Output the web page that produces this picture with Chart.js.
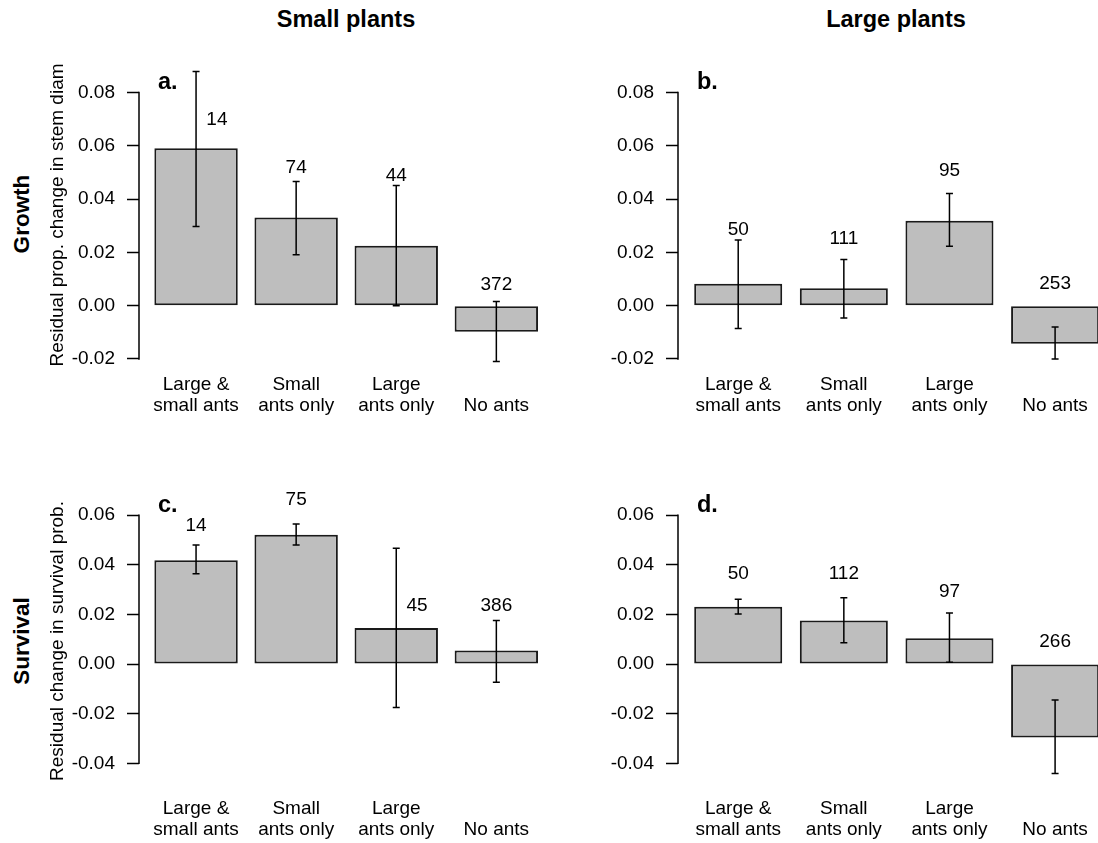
<!DOCTYPE html>
<html>
<head>
<meta charset="utf-8">
<title>Ant occupancy effects on plant growth and survival</title>
<script src="https://cdn.jsdelivr.net/npm/chart.js@4.4.1/dist/chart.umd.min.js"></script>
<style>
  html, body { margin: 0; padding: 0; background: #fff; width: 1098px; height: 843px; overflow: hidden; }
  #fig { position: relative; width: 1098px; height: 843px; overflow: hidden;
         font-family: "Liberation Sans", Arial, sans-serif; color: #000; }
  .hdr { position: absolute; font-weight: bold; font-size: 23.5px; line-height: 1;
         white-space: nowrap; transform: translate(-50%, -50%); }
  .rowlab { position: absolute; font-weight: bold; font-size: 22.5px; line-height: 1;
            white-space: nowrap; transform: translate(-50%, -50%) rotate(-90deg); }
</style>
</head>
<body>
<div id="fig">
  <div class="hdr" style="left:346px; top:20px;">Small plants</div>
  <div class="hdr" style="left:896px; top:20px;">Large plants</div>
  <div class="rowlab" style="left:22px; top:214px;">Growth</div>
  <div class="rowlab" style="left:22px; top:641px;">Survival</div>
</div>
<script>
// ---- data -------------------------------------------------------------
const categories = [["Large &", "small ants"], ["Small", "ants only"], ["Large", "ants only"], ["", "No ants"]];

const growthTicks   = [-0.02, 0.00, 0.02, 0.04, 0.06, 0.08];
const survivalTicks = [-0.04, -0.02, 0.00, 0.02, 0.04, 0.06];

// Growth, small plants
const growthSmallMean = [0.0591, 0.0331, 0.0225, -0.0098];
const growthSmallLo   = [0.0297, 0.0191, 0.0000, -0.0210];
const growthSmallHi   = [0.0879, 0.0466, 0.0451, 0.0016];
const growthSmallN    = [14, 74, 44, 372];

// Growth, large plants
const growthLargeMean = [0.0082, 0.0065, 0.0319, -0.0143];
const growthLargeLo   = [-0.0086, -0.0046, 0.0223, -0.0200];
const growthLargeHi   = [0.0247, 0.0173, 0.0421, -0.0080];
const growthLargeN    = [50, 111, 95, 253];

// Survival, small plants
const survivalSmallMean = [0.0419, 0.0521, 0.0145, 0.0055];
const survivalSmallLo   = [0.0364, 0.0480, -0.0175, -0.0073];
const survivalSmallHi   = [0.0480, 0.0565, 0.0467, 0.0176];
const survivalSmallN    = [14, 75, 45, 386];

// Survival, large plants
const survivalLargeMean = [0.0231, 0.0176, 0.0104, -0.0296];
const survivalLargeLo   = [0.0202, 0.0086, 0.0007, -0.0441];
const survivalLargeHi   = [0.0261, 0.0267, 0.0206, -0.0145];
const survivalLargeN    = [50, 112, 97, 266];

// ---- layout of the four panels ----------------------------------------
const FONT = '"Liberation Sans", Arial, sans-serif';

const panels = [
  { letter: 'a.', mean: growthSmallMean, lo: growthSmallLo, hi: growthSmallHi, n: growthSmallN,
    ticks: growthTicks, yMin: -0.0249, yMax: 0.0930, letterY: 0.0814,
    countY: [0.0697, 0.0516, 0.0487, 0.0080], countDx: [0.25, 0, 0, 0],
    title: 'Residual prop. change in stem diam',
    box: { left: 0, top: 0, width: 556, height: 424 },
    area: { left: 139, right: 553.4, top: 58, bottom: 372 }, labPad: 2.5 },
  { letter: 'b.', mean: growthLargeMean, lo: growthLargeLo, hi: growthLargeHi, n: growthLargeN,
    ticks: growthTicks, yMin: -0.0249, yMax: 0.0930, letterY: 0.0814,
    countY: [0.0284, 0.0250, 0.0507, 0.0081], countDx: [0, 0, 0, 0],
    title: '',
    box: { left: 549, top: 0, width: 570, height: 424 },
    area: { left: 678, right: 1115.3, top: 58, bottom: 372 }, labPad: 2.5 },
  { letter: 'c.', mean: survivalSmallMean, lo: survivalSmallLo, hi: survivalSmallHi, n: survivalSmallN,
    ticks: survivalTicks, yMin: -0.0540, yMax: 0.0726, letterY: 0.0614,
    countY: [0.0556, 0.0661, 0.0234, 0.0235], countDx: [0, 0, 0.25, 0],
    title: 'Residual change in survival prob.',
    box: { left: 0, top: 424, width: 556, height: 419 },
    area: { left: 139, right: 553.4, top: 484, bottom: 798 }, labPad: 0 },
  { letter: 'd.', mean: survivalLargeMean, lo: survivalLargeLo, hi: survivalLargeHi, n: survivalLargeN,
    ticks: survivalTicks, yMin: -0.0540, yMax: 0.0726, letterY: 0.0614,
    countY: [0.0363, 0.0363, 0.0292, 0.0088], countDx: [0, 0, 0, 0],
    title: '',
    box: { left: 549, top: 424, width: 570, height: 419 },
    area: { left: 678, right: 1115.3, top: 484, bottom: 798 }, labPad: 0 }
];

// bar centres follow barplot's convention: width 1, space 0.2
const barX = i => 0.7 + 1.2 * i;

function decorPlugin(p) {
  return {
    id: 'panelDecor',
    afterDraw(chart) {
      const ctx = chart.ctx, xs = chart.scales.x, ys = chart.scales.y, ca = chart.chartArea;
      ctx.save();
      ctx.strokeStyle = '#000';
      ctx.fillStyle = '#000';

      // axis line spanning first to last tick
      ctx.lineWidth = 1.5;
      ctx.beginPath();
      ctx.moveTo(ca.left, ys.getPixelForValue(p.ticks[0]) + 0.75);
      ctx.lineTo(ca.left, ys.getPixelForValue(p.ticks[p.ticks.length - 1]) - 0.75);
      ctx.stroke();

      // error bars
      ctx.lineWidth = 1.5;
      p.mean.forEach((_, i) => {
        const x = xs.getPixelForValue(barX(i));
        const y1 = ys.getPixelForValue(p.lo[i]);
        const y2 = ys.getPixelForValue(p.hi[i]);
        ctx.beginPath();
        ctx.moveTo(x, y1); ctx.lineTo(x, y2);
        ctx.moveTo(x - 3.5, y1); ctx.lineTo(x + 3.5, y1);
        ctx.moveTo(x - 3.5, y2); ctx.lineTo(x + 3.5, y2);
        ctx.stroke();
      });

      // sample sizes
      ctx.font = '19px ' + FONT;
      ctx.textAlign = 'center';
      ctx.textBaseline = 'middle';
      p.n.forEach((n, i) => {
        ctx.fillText(String(n), xs.getPixelForValue(barX(i) + p.countDx[i]), ys.getPixelForValue(p.countY[i]));
      });

      // panel letter
      ctx.font = 'bold 23.5px ' + FONT;
      ctx.textAlign = 'left';
      ctx.textBaseline = 'alphabetic';
      ctx.fillText(p.letter, ca.left + 19, ys.getPixelForValue(p.letterY));
      ctx.restore();
    }
  };
}

const fig = document.getElementById('fig');

panels.forEach(p => {
  const cv = document.createElement('canvas');
  cv.width = p.box.width;
  cv.height = p.box.height;
  cv.style.cssText = `position:absolute;left:${p.box.left}px;top:${p.box.top}px;width:${p.box.width}px;height:${p.box.height}px;`;
  fig.appendChild(cv);

  const xVals = p.mean.map((_, i) => barX(i));
  const yAxisW = p.area.left - p.box.left;
  const xAxisH = p.box.top + p.box.height - p.area.bottom;

  new Chart(cv, {
    type: 'bar',
    data: {
      datasets: [{
        data: p.mean.map((v, i) => ({ x: xVals[i], y: v })),
        backgroundColor: '#bebebe',
        borderColor: '#1a1a1a',
        borderWidth: 2,
        borderSkipped: false,
        categoryPercentage: 1,
        barPercentage: 1 / 1.2
      }]
    },
    options: {
      responsive: false,
      animation: false,
      devicePixelRatio: 1,
      layout: { padding: { left: 0, top: p.area.top - p.box.top, right: p.box.left + p.box.width - p.area.right, bottom: 0 } },
      plugins: { legend: { display: false }, tooltip: { enabled: false } },
      scales: {
        x: {
          type: 'linear', min: 0.016, max: 4.984, offset: false,
          grid: { display: false, drawTicks: false, offset: false },
          border: { display: false },
          afterBuildTicks: s => { s.ticks = xVals.map(v => ({ value: v })); },
          afterFit: s => {
            s.height = xAxisH;
            s.paddingLeft = 0; s.paddingRight = 0; s.paddingTop = 0; s.paddingBottom = 0;
          },
          ticks: {
            autoSkip: false, maxRotation: 0, minRotation: 0, padding: p.labPad, color: '#000',
            font: { family: FONT, size: 19, lineHeight: '21px' },
            callback: (v, i) => categories[i]
          }
        },
        y: {
          type: 'linear', min: p.yMin, max: p.yMax, offset: false,
          grid: { display: true, drawOnChartArea: false, drawTicks: true, tickLength: 12, tickWidth: 1.5, tickColor: '#000' },
          border: { display: false },
          afterBuildTicks: s => { s.ticks = p.ticks.map(v => ({ value: v })); },
          afterFit: s => {
            s.width = yAxisW;
            s.paddingLeft = 0; s.paddingRight = 0; s.paddingTop = 0; s.paddingBottom = 0;
          },
          ticks: { padding: 12, color: '#000', font: { family: FONT, size: 19 }, callback: v => v.toFixed(2) },
          title: { display: !!p.title, text: p.title, color: '#000', font: { family: FONT, size: 19 }, padding: { top: 46, bottom: 0 } }
        }
      }
    },
    plugins: [decorPlugin(p)]
  });
});
</script>
</body>
</html>
